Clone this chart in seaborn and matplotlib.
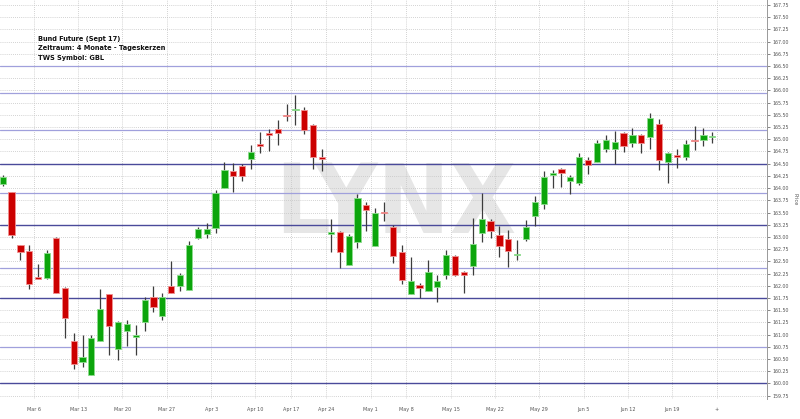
import matplotlib
matplotlib.use('Agg')
import matplotlib.pyplot as plt
from matplotlib import font_manager
import seaborn as sns
import pandas as pd
import numpy as np

# trading days shown on the chart (Eurex holidays left out)
holidays = ['2017-04-14', '2017-04-17', '2017-05-01']
days = pd.bdate_range('2017-02-28', '2017-06-23')
days = days[~days.isin(pd.to_datetime(holidays))]

# daily candles
opens = [164.09, 163.92, 162.83, 162.72, 162.17, 162.16, 162.98, 161.96, 160.86, 160.44,
         160.17, 160.86, 161.83, 160.70, 161.08, 160.96, 161.25, 161.77, 161.39, 161.99,
         161.99, 161.92, 162.98, 163.06, 163.18, 164.00, 164.36, 164.45, 164.60, 164.90,
         165.13, 165.22, 165.49, 165.60, 165.59, 165.30, 164.63, 163.07, 163.11, 162.43,
         162.89, 163.66, 162.82, 163.52, 163.20, 162.70, 161.84, 162.01, 161.89, 161.97,
         162.21, 162.61, 162.29, 162.40, 163.09, 163.33, 163.03, 162.95, 162.62, 162.96,
         163.42, 163.68, 164.26, 164.39, 164.15, 164.11, 164.57, 164.54, 164.80, 164.80,
         165.12, 164.93, 165.08, 165.05, 165.31, 164.54, 164.67, 164.63, 164.99, 164.98,
         165.04]
highs = [164.26, 163.93, 162.84, 162.84, 162.44, 162.74, 162.99, 161.97, 161.03, 160.99,
         161.00, 161.93, 161.84, 161.27, 161.30, 161.19, 161.77, 161.99, 161.86, 162.51,
         162.27, 162.91, 163.20, 163.28, 163.96, 164.54, 164.52, 164.49, 164.88, 165.14,
         165.22, 165.40, 165.73, 165.90, 165.66, 165.31, 164.80, 163.36, 163.12, 163.07,
         163.87, 163.71, 163.59, 163.72, 163.24, 162.83, 162.59, 162.05, 162.52, 162.23,
         162.74, 162.62, 162.30, 163.38, 163.89, 163.37, 163.22, 163.14, 162.94, 163.34,
         163.83, 164.35, 164.38, 164.42, 164.26, 164.72, 164.63, 164.98, 165.08, 165.17,
         165.15, 165.24, 165.10, 165.53, 165.41, 164.74, 164.80, 164.99, 165.27, 165.23,
         165.14]
lows = [164.05, 162.98, 162.53, 161.94, 162.14, 162.14, 161.85, 160.93, 160.29, 160.34,
        160.17, 160.86, 160.59, 160.48, 160.77, 160.58, 161.07, 161.46, 161.30, 161.85,
        161.90, 161.92, 162.95, 162.98, 163.09, 164.00, 163.92, 164.14, 164.40, 164.71,
        164.77, 164.89, 165.37, 165.29, 165.11, 164.40, 164.36, 162.69, 162.36, 162.42,
        162.78, 163.12, 162.82, 163.33, 162.46, 162.04, 161.84, 161.75, 161.89, 161.66,
        162.14, 162.20, 161.85, 162.21, 162.89, 162.98, 162.59, 162.38, 162.52, 162.92,
        163.23, 163.57, 164.00, 164.02, 163.87, 164.07, 164.28, 164.54, 164.73, 164.49,
        164.73, 164.84, 164.71, 164.81, 164.38, 164.10, 164.41, 164.57, 164.78, 164.86,
        164.93]
closes = [164.22, 163.03, 162.69, 162.04, 162.14, 162.68, 161.85, 161.34, 160.39, 160.54,
          160.93, 161.53, 161.17, 161.26, 161.21, 161.00, 161.70, 161.56, 161.77, 161.85,
          162.21, 162.84, 163.16, 163.16, 163.89, 164.37, 164.25, 164.24, 164.73, 164.86,
          165.09, 165.13, 165.47, 165.63, 165.18, 164.63, 164.60, 163.10, 162.69, 163.02,
          163.79, 163.56, 163.48, 163.49, 162.61, 162.12, 162.10, 161.96, 162.28, 162.10,
          162.62, 162.23, 162.21, 162.85, 163.36, 163.12, 162.81, 162.71, 162.66, 163.20,
          163.72, 164.23, 164.30, 164.30, 164.23, 164.63, 164.48, 164.93, 164.98, 164.95,
          164.86, 165.09, 164.93, 165.44, 164.58, 164.72, 164.64, 164.91, 164.96, 165.08,
          165.07]

# support / resistance lines drawn on the chart
levels_dark = [164.50, 163.25, 161.75, 160.00]
levels_light = [166.50, 165.95, 165.20, 163.90, 162.37, 160.75]

info_lines = ['Bund Future (Sept 17)', 'Zeitraum: 4 Monate - Tageskerzen', 'TWS Symbol: GBL']

df = pd.DataFrame({'date': days, 'open': opens, 'high': highs, 'low': lows, 'close': closes})
df['x'] = np.arange(len(df))
df['up'] = df['close'] >= df['open']
df['bottom'] = df[['open', 'close']].min(axis=1)
df['height'] = (df['close'] - df['open']).abs().clip(lower=0.02)

# week grid: first trading day of every week, plus the next (empty) week
df['week'] = df['date'].dt.to_period('W')
first = df.groupby('week')['x'].min()
week_pos = list(first.values[1:] - 0.5) + [len(df) - 0.5]
week_lab = [f"{p.start_time:%b} {p.start_time.day}" for p in first.index[1:]] + ['+']

sns.set_style('white')
plt.rcParams['font.family'] = ['DejaVu Sans']

fig = plt.figure(figsize=(8, 4.19), dpi=100)
ax = fig.add_axes([0, 20 / 419, 767 / 800, 399 / 419])

# watermark - pick the narrowest bold face that is installed
fonts = font_manager.fontManager.ttflist
names = {f.name for f in fonts}
cond = any(f.name == 'DejaVu Sans' and 'condensed' in str(f.stretch) and f.weight in (700, 'bold')
           for f in fonts)
if 'Liberation Sans Narrow' in names:
    wm = dict(family='Liberation Sans Narrow', fontsize=80)
elif cond:
    wm = dict(family='DejaVu Sans', fontstretch='condensed', fontsize=69)
else:
    wm = dict(family='DejaVu Sans', fontsize=62)
ax.text(44.3, 163.62, 'LYNX', weight='bold', color='#e6e6e6', ha='center', va='center',
        zorder=0.2, **wm)

# grid
for yv in np.arange(159.75, 167.76, 0.25):
    ax.axhline(yv, color='#c4c4c4', lw=0.6, ls=(0, (1, 1.5)), zorder=0.5)
for xv in week_pos:
    ax.axvline(xv, color='#c4c4c4', lw=0.6, ls=(0, (1, 1.5)), zorder=0.5)

for lv in levels_light:
    ax.axhline(lv, color='#a0a0dc', lw=0.9, zorder=1)
for lv in levels_dark:
    ax.axhline(lv, color='#4a4a9a', lw=1.0, zorder=1)

# candles
ax.vlines(df['x'], df['low'], df['high'], color='#3c3c3c', lw=0.9, zorder=2)
up = df[df['up']]
dn = df[~df['up']]
ax.bar(up['x'], up['height'], bottom=up['bottom'], width=0.7,
       color='#0ca50c', edgecolor='#8edc8e', lw=0.6, zorder=3)
ax.bar(dn['x'], dn['height'], bottom=dn['bottom'], width=0.7,
       color='#cc0000', edgecolor='#f09090', lw=0.6, zorder=3)

ax.set_xlim(-0.304, 86.17)
ax.set_ylim(159.68, 167.853)

ax.set_xticks(week_pos)
ax.set_xticklabels(week_lab)
ax.set_yticks(np.arange(159.75, 167.76, 0.25))
ax.set_yticklabels([f'{v:.2f}' for v in np.arange(159.75, 167.76, 0.25)])
ax.yaxis.tick_right()
ax.yaxis.set_label_position('right')
ax.set_ylabel('Price', rotation=270, fontsize=3.6, color='#555555', labelpad=6)
ax.tick_params(axis='y', labelsize=3.4, colors='#555555', length=2.5, width=0.5, pad=1.5)
ax.tick_params(axis='x', labelsize=3.5, colors='#555555', length=0, pad=6)

for s in ['left', 'top', 'bottom']:
    ax.spines[s].set_visible(False)
ax.spines['right'].set_color('#999999')
ax.spines['right'].set_linewidth(0.7)

for k, line in enumerate(info_lines):
    fig.text(38 / 800, 1 - (40.7 + 9.7 * k) / 419, line, fontsize=4.8, weight='bold',
             color='#111111', va='baseline', ha='left')

fig.savefig('out.png', dpi=100)
